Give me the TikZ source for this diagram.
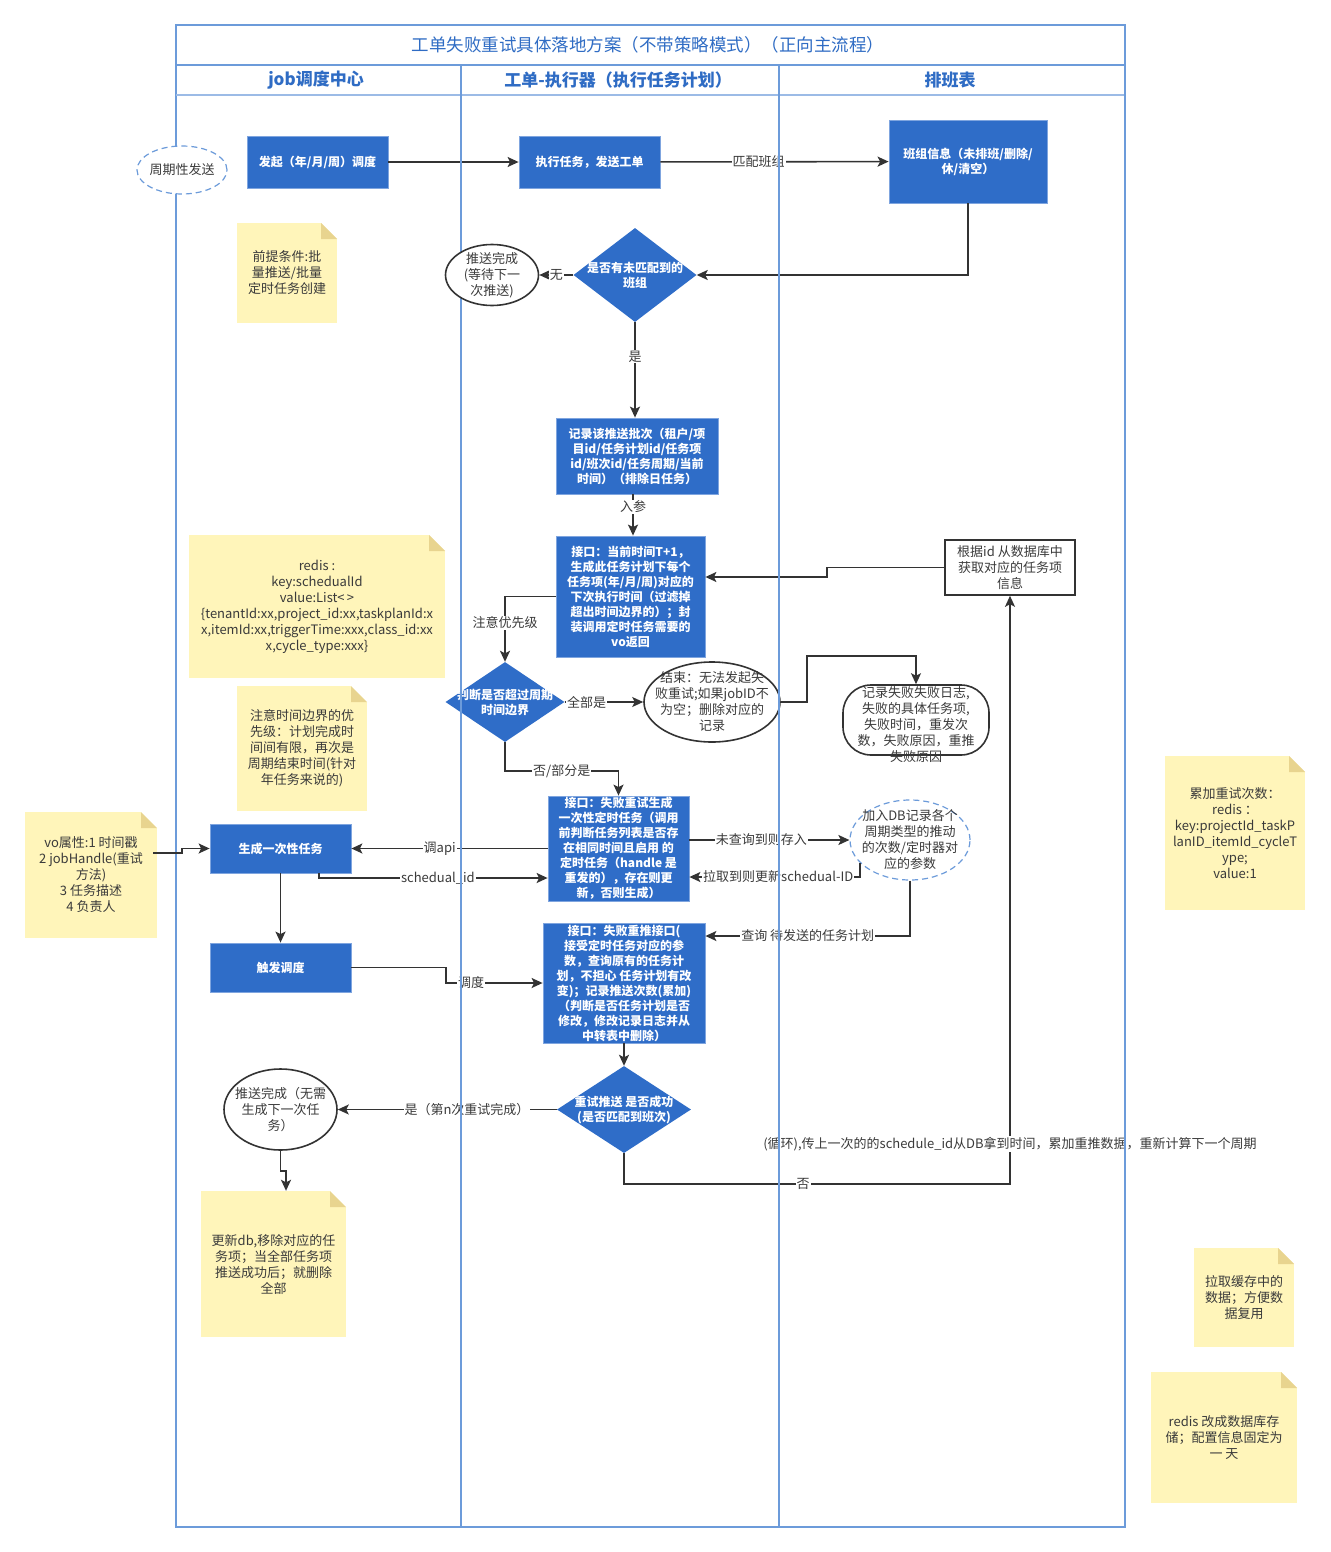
\documentclass[tikz,border=0pt]{standalone}
\usepackage{fontspec}
\setmainfont{Noto Sans CJK SC}
\usepackage{xcolor}
\usepackage{tikz}
\usetikzlibrary{arrows.meta,positioning,shapes,calc}
\definecolor{flowblue}{HTML}{2F6DC8}
\definecolor{flowedge}{HTML}{7FA5DF}
\definecolor{poolblue}{HTML}{6C9BDA}
\definecolor{headblue}{HTML}{9CBBE6}
\definecolor{titleblue}{HTML}{2F6CC4}
\definecolor{notey}{HTML}{FFF5BA}
\definecolor{notefold}{HTML}{E8D48F}
\definecolor{inkgray}{HTML}{333333}
\definecolor{txtgray}{HTML}{3A3A3A}
\newcommand{\boxfont}{\fontsize{12pt}{15pt}\selectfont\bfseries}
\newcommand{\notefont}{\fontsize{13pt}{16pt}\selectfont}
\newcommand{\lblfont}{\fontsize{13pt}{15pt}\selectfont}

\begin{document}
\begin{tikzpicture}[x = 1pt, y = -1pt,
    flow/.style = {rectangle, fill = flowblue, draw = flowedge, line width = .8pt, text = white, font = \boxfont, align = center, inner sep = 1pt},
    decide/.style = {diamond, fill = flowblue, inner sep = 0pt},
    dtext/.style = {text = white, font = \boxfont, align = center},
    oval/.style = {ellipse, fill = white, draw = inkgray, line width = 1.6pt, inner sep = 0pt},
    dashoval/.style = {ellipse, fill = white, draw = poolblue, line width = 1.2pt, dash pattern = on 6pt off 4pt, inner sep = 0pt},
    otext/.style = {text = txtgray, font = \notefont, align = center},
    memo/.style = {rectangle, fill = notey, inner sep = 2pt, text = txtgray, font = \notefont, align = center,
      path picture = {
        \fill[white] (path picture bounding box.north east) -- ++(-16pt,0pt) -- ++(16pt,-16pt) -- cycle;
        \fill[notefold] ($(path picture bounding box.north east) + (-16pt,0pt)$) -- ++(0pt,-16pt) -- ++(16pt,0pt) -- cycle;}},
    arr/.style = {-{Stealth[length = 11pt, width = 10pt, inset = 2.5pt]}, draw = inkgray, line width = 1.6pt},
    lbl/.style = {fill = white, inner sep = 1pt, text = txtgray, font = \lblfont},
    pool/.style = {draw = poolblue, line width = 1.5pt}
  ]
  \useasboundingbox (0,0) rectangle (1330,1552);
  % pool and lanes
  \draw[pool, fill = white] (176,25) rectangle (1125,1527);
  \draw[pool] (176,65) -- (1125,65);
  \draw[draw = headblue, line width = 1.5pt] (176,95) -- (1125,95);
  \node[text = titleblue, font = \fontsize{17.5pt}{20pt}\selectfont] (title) at (648,45) {工单失败重试具体落地方案（不带策略模式）（正向主流程）};
  \node[text = titleblue, font = \fontsize{17pt}{20pt}\selectfont\bfseries] (jobh) at (316,80) {job调度中心};
  \node[text = titleblue, font = \fontsize{17pt}{20pt}\selectfont\bfseries] (exech) at (618,80) {工单-执行器（执行任务计划）};
  \node[text = titleblue, font = \fontsize{17pt}{20pt}\selectfont\bfseries] (schedh) at (950,80) {排班表};

  % nodes
  \node[dashoval, minimum width = 90pt, minimum height = 48pt, label = {[otext]center:周期性发送}] (start) at (182,170) {};
  \node[flow, minimum width = 141pt, minimum height = 52pt] (launch) at (317.5,162) {发起（年/月/周）调度};
  \node[flow, minimum width = 141pt, minimum height = 52pt] (exec) at (589.5,162) {执行任务，发送工单};
  \node[flow, minimum width = 158pt, minimum height = 83pt] (team) at (968,161.5) {班组信息（未排班/删除/\\休/清空）};
  \node[memo, minimum width = 100pt, minimum height = 100pt] (pre) at (287,273) {前提条件:批\\量推送/批量\\定时任务创建};
  \node[decide, minimum width = 123pt, minimum height = 94pt, label = {[dtext]center:是否有未匹配到的\\班组}] (dteam) at (635,275) {};
  \node[flow, minimum width = 162pt, minimum height = 76pt] (record) at (637,456) {记录该推送批次（租户/项\\目id/任务计划id/任务项\\id/班次id/任务周期/当前\\时间）（排除日任务）};
  \node[flow, minimum width = 149pt, minimum height = 121pt] (api) at (630.5,596.5) {接口：当前时间T+1，\\生成此任务计划下每个\\任务项(年/月/周)对应的\\下次执行时间（过滤掉\\超出时间边界的）；封\\装调用定时任务需要的\\vo返回};
  \node[draw = inkgray, line width = 1.6pt, fill = white, minimum width = 130pt, minimum height = 55pt, inner sep = 1pt, otext] (info) at (1010,567.5) {根据id 从数据库中\\获取对应的任务项\\信息};
  \node[memo, minimum width = 256pt, minimum height = 143pt] (redis) at (317,606.5) {redis :\\key:schedualId\\value:List<\,>\\\{tenantId:xx,project\_id:xx,taskplanId:x\\x,itemId:xx,triggerTime:xxx,class\_id:xx\\x,cycle\_type:xxx\}};
  \node[memo, minimum width = 130pt, minimum height = 125pt] (bound) at (302,748.5) {注意时间边界的优\\先级：计划完成时\\间间有限，再次是\\周期结束时间(针对\\年任务来说的)};
  \node[decide, minimum width = 119pt, minimum height = 80pt, label = {[dtext]center:判断是否超过周期\\时间边界}] (dlimit) at (505,702) {};
  \node[oval, minimum width = 136pt, minimum height = 80pt, label = {[otext]center:结束：无法发起失\\败重试;如果jobID不\\为空；删除对应的\\记录}] (stop) at (712,702) {};
  \node[rectangle, rounded corners = 28pt, draw = inkgray, line width = 1.6pt, fill = white, minimum width = 146pt, minimum height = 70pt, label = {[otext, yshift = -5pt]center:记录失败失败日志,\\失败的具体任务项,\\失败时间，重发次\\数，失败原因，重推\\失败原因}] (faillog) at (916,720) {};
  \node[flow, minimum width = 141pt, minimum height = 105pt] (retry) at (618.5,848.5) {接口：失败重试生成\\一次性定时任务（调用\\前判断任务列表是否存\\在相同时间且启用 的\\定时任务（handle 是\\重发的），存在则更\\新，否则生成）};
  \node[memo, minimum width = 132pt, minimum height = 126pt] (vo) at (91,875) {vo属性:1 时间戳\\2 jobHandle(重试\\方法)\\3 任务描述\\4 负责人};
  \node[flow, minimum width = 141pt, minimum height = 49pt] (once) at (280.5,848.5) {生成一次性任务};
  \node[dashoval, minimum width = 120pt, minimum height = 80pt, label = {[otext]center:加入DB记录各个\\周期类型的推动\\的次数/定时器对\\应的参数}] (dbrec) at (910,840) {};
  \node[flow, minimum width = 162pt, minimum height = 120pt] (repush) at (624,983) {接口：失败重推接口(\\接受定时任务对应的参\\数，查询原有的任务计\\划，不担心 任务计划有改\\变)；记录推送次数(累加)\\（判断是否任务计划是否\\修改，修改记录日志并从\\中转表中删除）};
  \node[flow, minimum width = 141pt, minimum height = 49pt] (trigger) at (280.5,967.5) {触发调度};
  \node[decide, minimum width = 134pt, minimum height = 87pt, label = {[dtext]center:重试推送 是否成功\\(是否匹配到班次)}] (dok) at (624,1109.5) {};
  \node[oval, minimum width = 113pt, minimum height = 81pt, label = {[otext]center:推送完成（无需\\生成下一次任\\务）}] (done) at (280.5,1109.5) {};
  \node[memo, minimum width = 145pt, minimum height = 146pt] (upd) at (273.5,1264) {更新db,移除对应的任\\务项；当全部任务项\\推送成功后；就删除\\全部};
  \node[memo, minimum width = 140pt, minimum height = 154pt] (cnt) at (1235,833) {累加重试次数：\\redis ：\\key:projectId\_taskP\\lanID\_itemId\_cycleT\\ype;\\value:1};
  \node[memo, minimum width = 100pt, minimum height = 99pt] (cache) at (1244,1297.5) {拉取缓存中的\\数据；方便数\\据复用};
  \node[memo, minimum width = 146pt, minimum height = 131pt] (dbnote) at (1224,1437.5) {redis 改成数据库存\\储；配置信息固定为\\一 天};

  % connectors
  \draw[arr] (launch) -- (exec);
  \draw[arr] (exec) -- node[lbl, pos = .43] {匹配班组} (team);
  \draw[arr] (team.south) |- (dteam.east);
  \draw[arr] (dteam.south) -- node[lbl, pos = .36] {是} (dteam.south |- record.north);
  \draw[arr] (record.south -| 633,0) -- node[lbl, pos = .3] {入参} (api.north -| 633,0);
  \draw[arr] (info.west) -- (827,567.5) -- (827,577) -- (api.east |- 0,577);
  \draw[arr] (api.west) -| node[lbl, pos = .7] {注意优先级} (dlimit.north);
  \draw[arr] (dlimit.east) -- node[lbl, pos = .28] {全部是} (stop.west);
  \draw[arr] (stop.east) -- (807,702) |- (faillog.north |- 0,656) -- (faillog.north);
  \draw[arr] (dlimit.south) -- (505,771) -- node[lbl] {否/部分是} (retry.north |- 0,771) -- (retry.north);
  \draw[arr] ($(vo.east) + (-4,-22)$) -- ++(29,0) |- (once.west);
  \draw[arr] (retry.west) -- node[lbl, pos = .55] {调api} (once.east);
  \draw[arr] (once.south -| 319,0) |- node[lbl, pos = .76] {schedual\_id} (retry.west |- 0,878);
  \draw[arr] ($(retry.east) + (0,-8.5)$) -- node[lbl, pos = .45] {未查询到则存入} (dbrec.west);
  \draw[arr] (dbrec.205) |- node[lbl, pos = .74] {拉取到则更新schedual-ID} (retry.east |- 0,877);
  \draw[arr] (dbrec.south) |- node[lbl, pos = .75] {查询 待发送的任务计划} (repush.east |- 0,936);
  \draw[arr] (once) -- (trigger);
  \draw[arr] (trigger.east) -- (446,967.5) |- node[lbl, pos = .63] {调度} (repush.west);
  \draw[arr] (repush) -- (dok);
  \draw[arr] (dok.west) -- node[lbl, pos = .41] {是（第n次重试完成）} (done.east);
  \draw[arr] (done.south) -- ++(0,20) -| (upd.north -| 286,0);
  \draw[arr] (dok.south) -- ++(0,31) -| node[lbl, pos = .232] {否} node[lbl, pos = .534] {(循环),传上一次的的schedule\_id从DB拿到时间，累加重推数据，重新计算下一个周期} (info.south);

  % lane lines over the labels
  \draw[pool] (461,65) -- (461,1527);
  \draw[pool] (779,65) -- (779,1527);
  \draw[pool] (1125,25) -- (1125,1527);

  % this one sits over the lane line
  \node[oval, minimum width = 93pt, minimum height = 61pt, label = {[otext]center:推送完成\\(等待下一\\次推送)}] (wait) at (492,275) {};
  \draw[arr] (dteam.west) -- node[lbl] {无} (wait.east);
\end{tikzpicture}
\end{document}
